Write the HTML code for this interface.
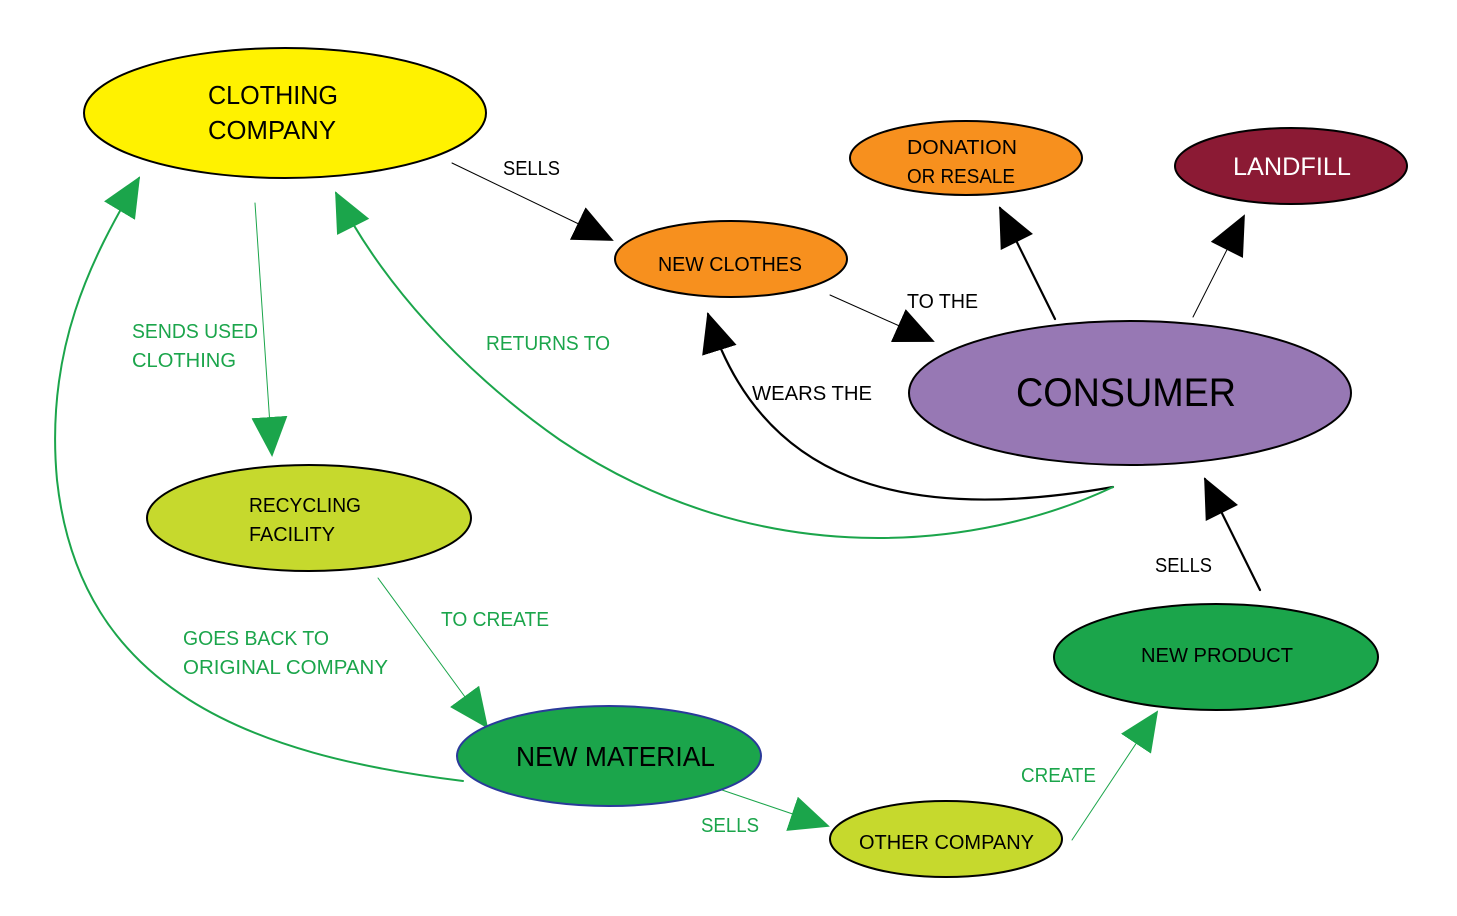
<!DOCTYPE html>
<html><head><meta charset="utf-8"><style>
html,body{margin:0;padding:0;background:#fff;}
svg{display:block;font-family:"Liberation Sans",sans-serif;}
</style></head><body>
<svg width="1457" height="916" viewBox="0 0 1457 916" xmlns="http://www.w3.org/2000/svg">
<defs>
<marker id="ab" markerUnits="userSpaceOnUse" markerWidth="40" markerHeight="38" refX="38" refY="18" orient="auto"><path d="M0,0 L40,18 L0,36 z" fill="#000"/></marker>
<marker id="ag" markerUnits="userSpaceOnUse" markerWidth="40" markerHeight="38" refX="38" refY="18" orient="auto"><path d="M0,0 L40,18 L0,36 z" fill="#1BA54B"/></marker>
</defs>
<g fill="none" stroke-linecap="round">
<path d="M452,163 L612,240" stroke="#000" stroke-width="1" marker-end="url(#ab)"/>
<path d="M830,295 L933,341" stroke="#000" stroke-width="1" marker-end="url(#ab)"/>
<path d="M1113,487 C900,525 760,480 708,314" stroke="#000" stroke-width="2.2" marker-end="url(#ab)"/>
<path d="M1055,319 L1000,208" stroke="#000" stroke-width="2.2" marker-end="url(#ab)"/>
<path d="M1193,317 L1244,216" stroke="#000" stroke-width="1" marker-end="url(#ab)"/>
<path d="M1260,590 L1205,479" stroke="#000" stroke-width="2.2" marker-end="url(#ab)"/>
<path d="M1113,487 C980,550 760,575 560,440 C460,370 380,280 336,193" stroke="#1BA54B" stroke-width="2" marker-end="url(#ag)"/>
<path d="M255,203 L272,455" stroke="#1BA54B" stroke-width="1" marker-end="url(#ag)"/>
<path d="M463,781 C250,755 80,690 57,480 C45,350 90,260 139,178" stroke="#1BA54B" stroke-width="2" marker-end="url(#ag)"/>
<path d="M378,578 L487,727" stroke="#1BA54B" stroke-width="1" marker-end="url(#ag)"/>
<path d="M722,790 L828,826" stroke="#1BA54B" stroke-width="1" marker-end="url(#ag)"/>
<path d="M1072,840 L1157,712" stroke="#1BA54B" stroke-width="1" marker-end="url(#ag)"/>
</g>
<g stroke="#000" stroke-width="2">
<ellipse cx="285" cy="113" rx="201" ry="65" fill="#FFF200"/>
<ellipse cx="966" cy="158" rx="116" ry="37" fill="#F7901E"/>
<ellipse cx="1291" cy="166" rx="116" ry="38" fill="#8B1A34"/>
<ellipse cx="731" cy="259" rx="116" ry="38" fill="#F7901E"/>
<ellipse cx="1130" cy="393" rx="221" ry="72" fill="#9778B4"/>
<ellipse cx="309" cy="518" rx="162" ry="53" fill="#C6D92D"/>
<ellipse cx="1216" cy="657" rx="162" ry="53" fill="#1BA54B"/>
<ellipse cx="609" cy="756" rx="152" ry="50" fill="#1BA54B" stroke="#2a3a9a"/>
<ellipse cx="946" cy="839" rx="116" ry="38" fill="#C6D92D"/>
</g>
<g fill="#000">
<text x="208" y="104" font-size="26" textLength="130" lengthAdjust="spacingAndGlyphs">CLOTHING</text>
<text x="208" y="139" font-size="26" textLength="128" lengthAdjust="spacingAndGlyphs">COMPANY</text>
<text x="907" y="154" font-size="20" textLength="110" lengthAdjust="spacingAndGlyphs">DONATION</text>
<text x="907" y="183" font-size="20" textLength="108" lengthAdjust="spacingAndGlyphs">OR RESALE</text>
<text x="1233" y="175" font-size="25" fill="#fff" textLength="118" lengthAdjust="spacingAndGlyphs">LANDFILL</text>
<text x="658" y="271" font-size="20" textLength="144" lengthAdjust="spacingAndGlyphs">NEW CLOTHES</text>
<text x="1016" y="406" font-size="40" textLength="220" lengthAdjust="spacingAndGlyphs">CONSUMER</text>
<text x="249" y="512" font-size="20" textLength="112" lengthAdjust="spacingAndGlyphs">RECYCLING</text>
<text x="249" y="541" font-size="20" textLength="86" lengthAdjust="spacingAndGlyphs">FACILITY</text>
<text x="1141" y="662" font-size="20" textLength="152" lengthAdjust="spacingAndGlyphs">NEW PRODUCT</text>
<text x="516" y="766" font-size="28" textLength="199" lengthAdjust="spacingAndGlyphs">NEW MATERIAL</text>
<text x="859" y="849" font-size="20" textLength="175" lengthAdjust="spacingAndGlyphs">OTHER COMPANY</text>
<text x="503" y="175" font-size="20" textLength="57" lengthAdjust="spacingAndGlyphs">SELLS</text>
<text x="907" y="308" font-size="20" textLength="71" lengthAdjust="spacingAndGlyphs">TO THE</text>
<text x="752" y="400" font-size="20" textLength="120" lengthAdjust="spacingAndGlyphs">WEARS  THE</text>
<text x="1155" y="572" font-size="20" textLength="57" lengthAdjust="spacingAndGlyphs">SELLS</text>
</g>
<g fill="#1BA54B" font-size="20">
<text x="132" y="338" textLength="126" lengthAdjust="spacingAndGlyphs">SENDS USED</text>
<text x="132" y="367" textLength="104" lengthAdjust="spacingAndGlyphs">CLOTHING</text>
<text x="486" y="350" textLength="124" lengthAdjust="spacingAndGlyphs">RETURNS TO</text>
<text x="441" y="626" textLength="108" lengthAdjust="spacingAndGlyphs">TO CREATE</text>
<text x="183" y="645" textLength="146" lengthAdjust="spacingAndGlyphs">GOES BACK TO</text>
<text x="183" y="674" textLength="205" lengthAdjust="spacingAndGlyphs">ORIGINAL COMPANY</text>
<text x="701" y="832" textLength="58" lengthAdjust="spacingAndGlyphs">SELLS</text>
<text x="1021" y="782" textLength="75" lengthAdjust="spacingAndGlyphs">CREATE</text>
</g>
</svg>
</body></html>
